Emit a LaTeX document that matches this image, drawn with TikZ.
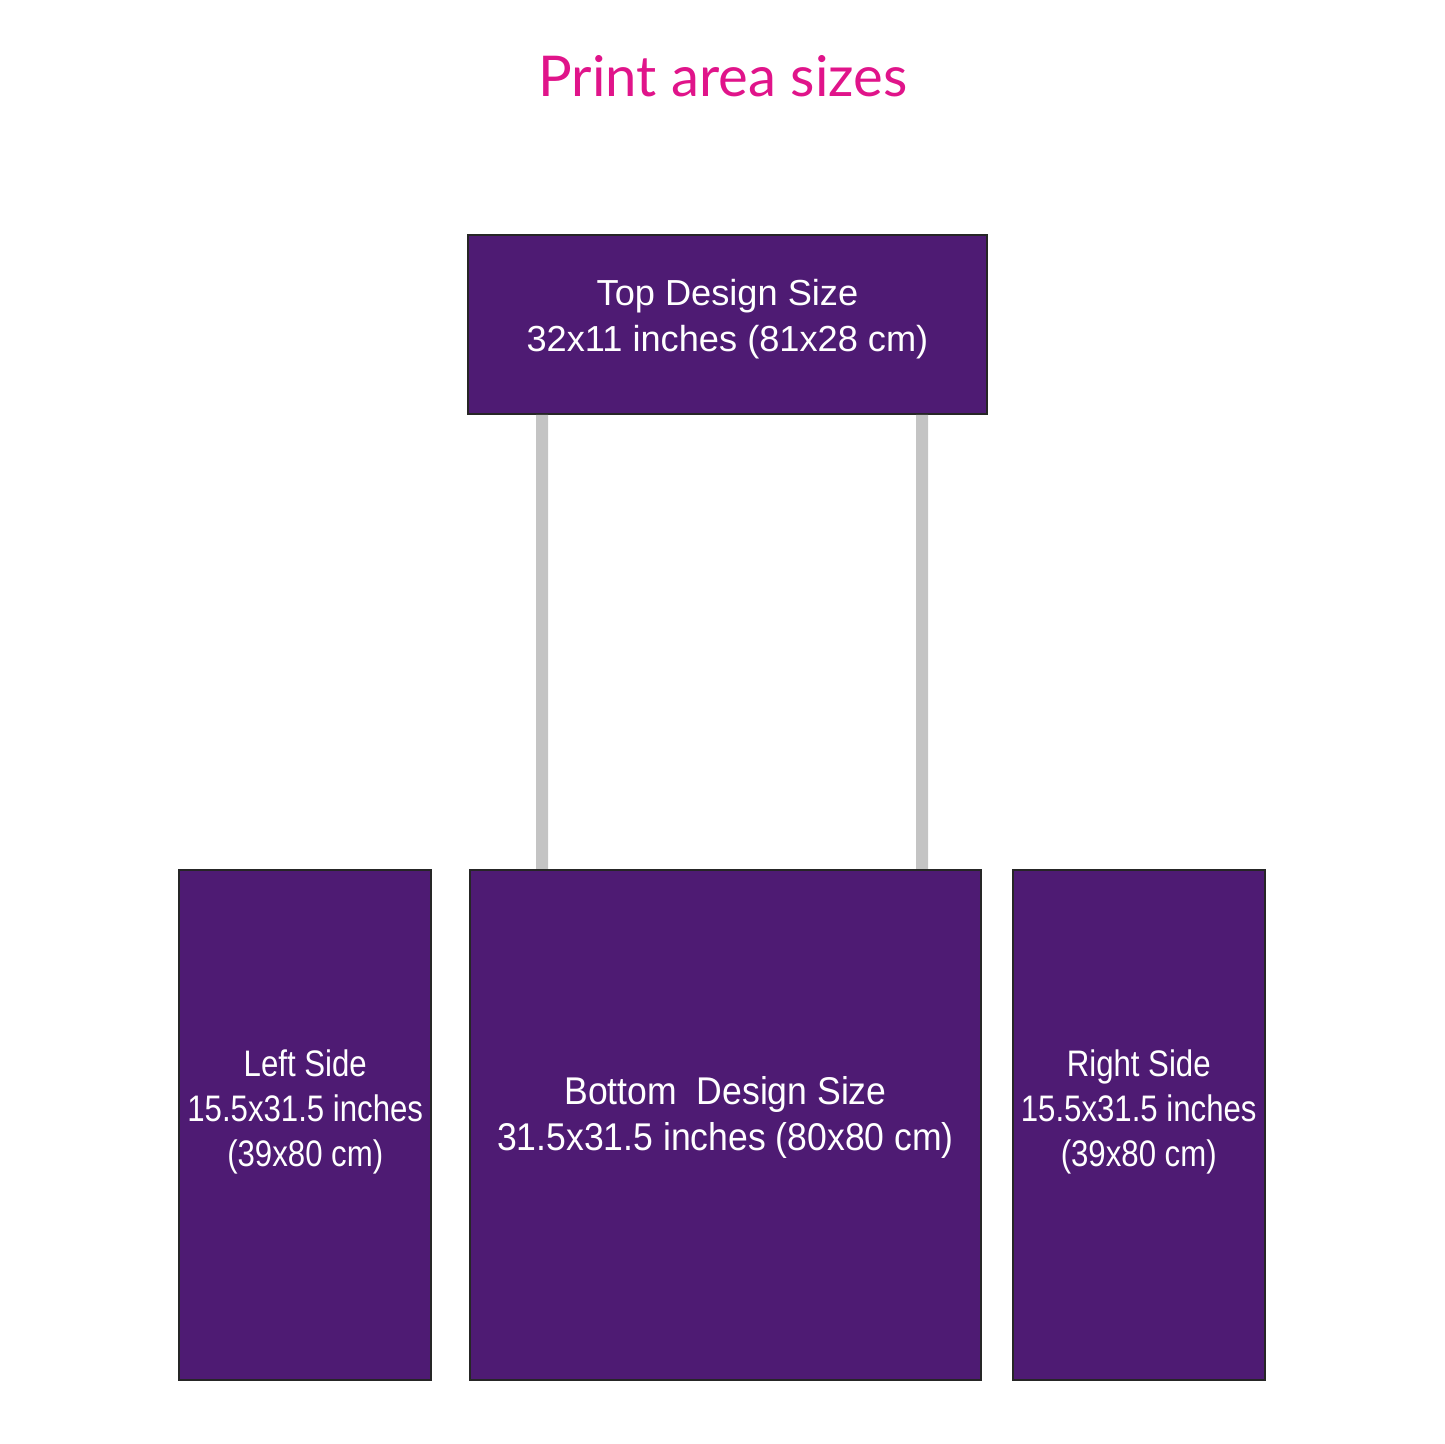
\documentclass[tikz,border=0pt]{standalone}
\usepackage{fontspec}
\setmainfont{Liberation Sans}
\newfontfamily\titlefont{Lato}
\newfontfamily\topfont{Liberation Sans}
\newfontfamily\bottomfont[FakeStretch=0.92]{Liberation Sans}
\newfontfamily\sidefont[FakeStretch=0.845]{Liberation Sans}
\definecolor{PanelPurple}{RGB}{78, 27, 115}
\definecolor{TitlePink}{RGB}{224, 20, 138}
\definecolor{PoleGray}{RGB}{196, 196, 196}
\usetikzlibrary{positioning}

\begin{document}
\begin{tikzpicture}[
            panel/.style={rectangle, draw=black!85, line width=0.5pt, fill=PanelPurple,
                          text=white, align=center, inner sep=0pt},
            pole/.style={PoleGray, line width=0.12cm}
        ]
            \useasboundingbox (0,0) rectangle (14.45,14.44);
            \node[anchor=base, text=TitlePink, font=\titlefont\fontsize{16}{19}\selectfont] (title) at (7.23,13.47) {Print area sizes};

            \node[panel, minimum width=5.19cm, minimum height=1.79cm, text depth=5pt,
                  font=\topfont\fontsize{10.3}{13}\selectfont] (top) at (7.275,11.195) {Top Design Size\\32x11 inches (81x28 cm)};
            \node[panel, minimum width=5.11cm, minimum height=5.10cm, below=4.54cm of top, xshift=-0.02cm, text depth=6.3pt,
                  font=\bottomfont\fontsize{11}{13}\selectfont] (bottom) {Bottom~ Design Size\\31.5x31.5 inches (80x80 cm)};
            \node[panel, minimum width=2.52cm, minimum height=5.10cm, left=0.37cm of bottom, text depth=9.6pt,
                  font=\sidefont\fontsize{10.5}{12.8}\selectfont] (left) {Left Side\\15.5x31.5 inches\\(39x80 cm)};
            \node[panel, minimum width=2.52cm, minimum height=5.10cm, right=0.30cm of bottom, text depth=9.6pt,
                  font=\sidefont\fontsize{10.5}{12.8}\selectfont] (right) {Right Side\\15.5x31.5 inches\\(39x80 cm)};

            \draw[pole] ([xshift=0.75cm]top.south west) -- ([xshift=0.73cm]bottom.north west);
            \draw[pole] ([xshift=4.55cm]top.south west) -- ([xshift=4.53cm]bottom.north west);
        \end{tikzpicture}
\end{document}
